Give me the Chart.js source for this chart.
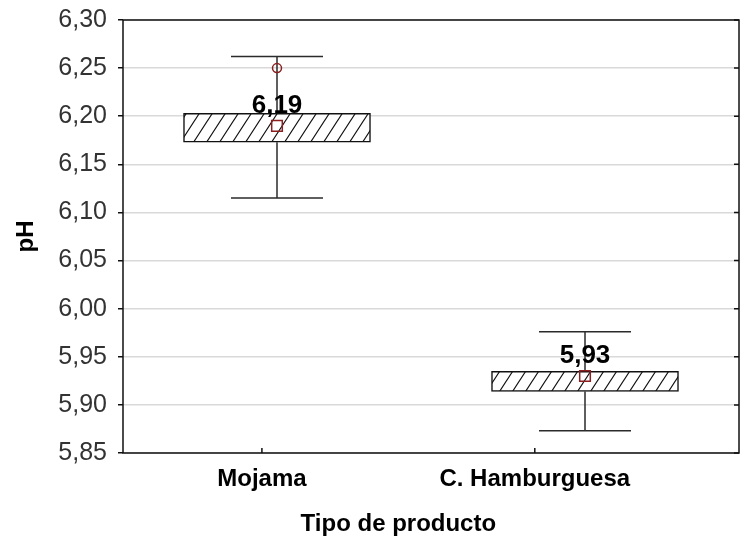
<!DOCTYPE html>
<html>
<head>
<meta charset="utf-8">
<script src="https://cdn.jsdelivr.net/npm/chart.js@4.4.1/dist/chart.umd.min.js"></script>
<style>
  html, body { margin: 0; padding: 0; background: #fff; }
  #wrap { width: 740px; height: 546px; }
</style>
</head>
<body>
<div id="wrap"><canvas id="c"></canvas></div>
<script>
// pH por tipo de producto: caja, bigotes, media y valor extremo
const categories = ['Mojama', 'C. Hamburguesa'];
const whiskerLow = [6.115, 5.873];
const boxLow = [6.173, 5.914];
const boxHigh = [6.203, 5.935];
const whiskerHigh = [6.262, 5.976];
const meanValues = [6.19, 5.93];
const extremeValues = [6.25, null];
const yTickValues = [5.85, 5.90, 5.95, 6.00, 6.05, 6.10, 6.15, 6.20, 6.25, 6.30];

// layout constants
const FONT = '"Liberation Sans", Arial, sans-serif';
const labelShift = [-0.049, -0.163];   // category label offset, in axis units
const capHalf = 46;                     // whisker cap half width, px
const comma = v => v.toFixed(2).replace('.', ',');

function hatchPattern() {
  const w = 13, h = 20;
  const c = document.createElement('canvas');
  c.width = w; c.height = h;
  const g = c.getContext('2d');
  g.fillStyle = '#ffffff';
  g.fillRect(0, 0, w, h);
  g.strokeStyle = '#111';
  g.lineWidth = 1.2;
  g.beginPath();
  g.moveTo(-w, 2 * h); g.lineTo(2 * w, -h);
  g.moveTo(-2 * w, 2 * h); g.lineTo(w, -h);
  g.moveTo(0, 2 * h); g.lineTo(3 * w, -h);
  g.stroke();
  return g.createPattern(c, 'repeat');
}

const boxPlotPlugin = {
  id: 'boxPlotParts',
  beforeDatasetsDraw(chart) {
    const { ctx } = chart;
    const xs = chart.scales.x, ys = chart.scales.y;
    ctx.save();
    ctx.strokeStyle = '#2b2b2b';
    ctx.lineWidth = 1.5;
    categories.forEach((_, i) => {
      const x = xs.getPixelForValue(i + 0.5);
      const yHi = ys.getPixelForValue(whiskerHigh[i]);
      const yLo = ys.getPixelForValue(whiskerLow[i]);
      const yQ3 = ys.getPixelForValue(boxHigh[i]);
      const yQ1 = ys.getPixelForValue(boxLow[i]);
      ctx.beginPath();
      ctx.moveTo(x, yHi); ctx.lineTo(x, yQ3);
      ctx.moveTo(x, yQ1); ctx.lineTo(x, yLo);
      ctx.moveTo(x - capHalf, yHi); ctx.lineTo(x + capHalf, yHi);
      ctx.moveTo(x - capHalf, yLo); ctx.lineTo(x + capHalf, yLo);
      ctx.stroke();
    });
    ctx.restore();
  },
  afterDatasetsDraw(chart) {
    const { ctx, chartArea: a } = chart;
    const xs = chart.scales.x, ys = chart.scales.y;
    ctx.save();
    // value labels over the means
    ctx.fillStyle = '#000';
    ctx.font = 'bold 26px ' + FONT;
    ctx.textAlign = 'center';
    ctx.textBaseline = 'alphabetic';
    categories.forEach((_, i) => {
      const x = xs.getPixelForValue(i + 0.5);
      const y = ys.getPixelForValue(meanValues[i]);
      ctx.fillText(comma(meanValues[i]), x, y - 13);
    });
    // frame
    ctx.strokeStyle = '#111';
    ctx.lineWidth = 1.5;
    ctx.strokeRect(a.left, a.top, a.right - a.left, a.bottom - a.top);
    // inward ticks on the right and bottom edges
    ctx.beginPath();
    ys.ticks.forEach((t, i) => {
      const y = ys.getPixelForTick(i);
      ctx.moveTo(a.right - 5, y); ctx.lineTo(a.right, y);
    });
    const labelX = [];
    xs.ticks.forEach((t, i) => {
      const x = xs.getPixelForTick(i);
      labelX.push(x);
      ctx.moveTo(x, a.bottom - 5); ctx.lineTo(x, a.bottom);
    });
    ctx.stroke();
    // x axis title, centred between the category labels
    ctx.font = 'bold 24px ' + FONT;
    ctx.fillStyle = '#000';
    ctx.textBaseline = 'alphabetic';
    const cx = labelX.reduce((s, v) => s + v, 0) / labelX.length;
    ctx.fillText('Tipo de producto', cx, 531);
    ctx.restore();
  }
};

new Chart(document.getElementById('c'), {
  type: 'bar',
  data: {
    datasets: [
      {
        type: 'line',
        label: 'Media',
        data: categories.map((_, i) => ({ x: i + 0.5, y: meanValues[i] })),
        showLine: false,
        pointStyle: 'rect',
        pointRadius: 7.5,
        pointBorderWidth: 1.5,
        pointBorderColor: '#8b1e1e',
        pointBackgroundColor: 'rgba(255,255,255,0)',
        order: 0
      },
      {
        type: 'line',
        label: 'Extremo',
        data: categories.map((_, i) => ({ x: i + 0.5, y: extremeValues[i] })),
        showLine: false,
        pointStyle: 'circle',
        pointRadius: 4.5,
        pointBorderWidth: 1.5,
        pointBorderColor: '#8b1e1e',
        pointBackgroundColor: 'rgba(255,255,255,0)',
        order: 1
      },
      {
        label: 'Caja',
        data: categories.map((_, i) => ({ x: i + 0.5, y: [boxLow[i], boxHigh[i]] })),
        backgroundColor: hatchPattern(),
        borderColor: '#111',
        borderWidth: 1.5,
        borderSkipped: false,
        barThickness: 187,
        order: 2
      }
    ]
  },
  options: {
    responsive: true,
    maintainAspectRatio: false,
    animation: false,
    events: [],
    layout: { autoPadding: false, padding: { top: 20, right: 1, left: 0, bottom: 0 } },
    plugins: { legend: { display: false }, tooltip: { enabled: false } },
    scales: {
      x: {
        type: 'linear',
        offset: false,
        min: 0,
        max: 2,
        afterBuildTicks: s => { s.ticks = categories.map((_, i) => ({ value: i + 0.5 + labelShift[i] })); },
        afterFit: s => { s.height = 93; s.paddingLeft = 0; s.paddingRight = 0; },
        ticks: {
          callback: (v, i) => categories[i],
          font: { family: FONT, size: 24, weight: 'bold' },
          color: '#000',
          padding: 4,
          maxRotation: 0,
          autoSkip: false
        },
        grid: { display: false, offset: false },
        border: { display: false }
      },
      y: {
        min: 5.85,
        max: 6.30,
        afterBuildTicks: s => { s.ticks = yTickValues.map(v => ({ value: v })); },
        afterFit: s => { s.width = 123; s.paddingTop = 0; s.paddingBottom = 0; },
        ticks: {
          callback: v => comma(v),
          font: { family: FONT, size: 25 },
          color: '#333',
          padding: 11
        },
        grid: { color: '#d9d9d9', lineWidth: 1.5, tickColor: '#111', tickLength: 5 },
        border: { display: false },
        title: {
          display: true,
          text: 'pH',
          font: { family: FONT, size: 24, weight: 'bold' },
          color: '#000',
          padding: { top: 12, bottom: 0 }
        }
      }
    }
  },
  plugins: [boxPlotPlugin]
});
</script>
</body>
</html>
